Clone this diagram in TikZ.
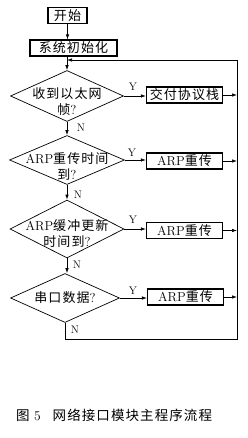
\documentclass[tikz,border=0pt]{standalone}
\usepackage{fontspec}
\newfontfamily\cjk[LetterSpace=8]{Noto Sans CJK SC}
\usetikzlibrary{arrows.meta,positioning,shapes.geometric}

\begin{document}
\begin{tikzpicture}[x=1pt,y=-1pt,
  box/.style={draw, line width=1.1pt, minimum height=16pt, inner sep=1pt, font=\fontsize{13}{15}\selectfont},
  dia/.style={draw, diamond, line width=0.7pt, inner sep=0pt},
  dtxt/.style={align=center, inner sep=0pt, font=\fontsize{13}{16}\selectfont},
  lbl/.style={inner sep=0pt, font=\fontsize{11}{12}\selectfont},
  arr/.style={-{Latex[length=5pt,width=3.5pt]}, line width=0.7pt},
  ln/.style={line width=0.7pt},
]
  \useasboundingbox (0,0) rectangle (248,438);

  % Main column
  \node[box, minimum width=39pt] (start) at (67.5,15.5) {\cjk 开始};
  \node[box, minimum width=87pt] (init) at (73.5,48) {\cjk 系统初始化};

  \node[dia, minimum width=113pt, minimum height=51pt] (d1) at (67,96) {};
  \node[dtxt] (t1) at (67,102) {{\cjk 收到以太网}\\{\cjk 帧}?};
  \node[dia, minimum width=115pt, minimum height=49pt] (d2) at (67,160) {};
  \node[dtxt] (t2) at (67,166) {ARP{\cjk 重传时间}\\{\cjk 到}?};
  \node[dia, minimum width=114pt, minimum height=58pt] (d3) at (67,229) {};
  \node[dtxt] (t3) at (67,234) {ARP{\cjk 缓冲更新}\\{\cjk 时间到}?};
  \node[dia, minimum width=109pt, minimum height=49pt] (d4) at (65,298) {};
  \node[dtxt] (t4) at (65,298) {{\cjk 串口数据}?};

  % Right column
  \node[box, minimum width=76pt] (b1) at (184.5,95) {\cjk 交付协议栈};
  \node[box, minimum width=76pt] (b2) at (184.5,161) {ARP{\cjk 重传}};
  \node[box, minimum width=76pt] (b3) at (184.5,230.5) {ARP{\cjk 重传}};
  \node[box, minimum width=76pt] (b4) at (185.5,297) {ARP{\cjk 重传}};

  % Return line
  \coordinate (tr) at (237,60);
  \coordinate (br) at (237,339);

  % Edges down
  \draw[arr] (start.south) -- (start.south |- init.north);
  \draw[arr] (d1.north |- init.south) -- (d1.north);
  \draw[arr] (d1.south) -- (d2.north);
  \draw[arr] (d2.south) -- (d3.north);
  \draw[arr] (d3.south) -- (d3.south |- d4.north);

  % Yes branches
  \draw[arr] (d1.east) -- (d1.east -| b1.west);
  \draw[arr] (d2.east) -- (d2.east -| b2.west);
  \draw[arr] (d3.east) -- (d3.east -| b3.west);
  \draw[arr] (d4.east) -- (d4.east -| b4.west);
  \draw[arr] (b1.east) -- (b1.east -| tr);
  \draw[arr] (b2.east) -- (b2.east -| tr);
  \draw[arr] (b3.east) -- (b3.east -| tr);
  \draw[arr] (b4.east) -- (b4.east -| tr);

  % Loop back
  \draw[arr] (d4.south) -- (d4.south |- br) -- (br) -- (tr) -- (d1.north |- tr);

  % Labels
  \node[lbl] (y1) at (133,87) {Y};
  \node[lbl] (y2) at (132,153) {Y};
  \node[lbl] (y3) at (133,220) {Y};
  \node[lbl] (y4) at (133,291) {Y};
  \node[lbl] (n1) at (81,128) {N};
  \node[lbl] (n2) at (78,195) {N};
  \node[lbl] (n3) at (77,265) {N};
  \node[lbl] (n4) at (75,330) {N};

  % Caption
  \node[anchor=west, inner sep=0pt, font=\fontsize{13.5}{15}\selectfont] (cap) at (16,415)
    {{\cjk 图} 5\hspace{12pt}{\cjk 网络接口模块主程序流程}};
\end{tikzpicture}
\end{document}
